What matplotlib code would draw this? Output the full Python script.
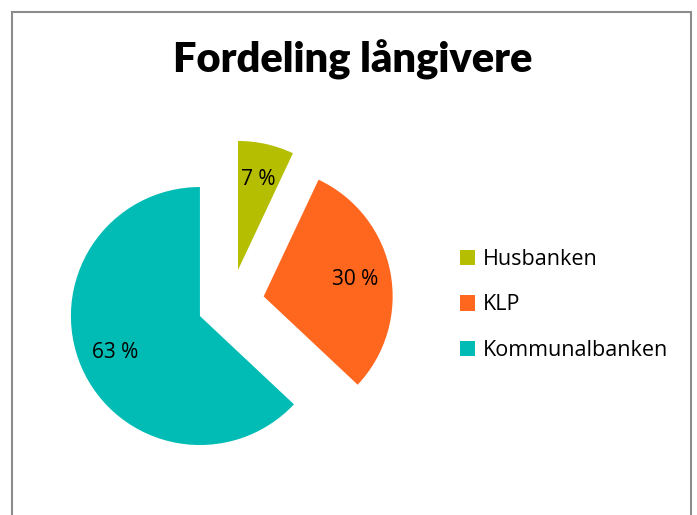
#!/usr/bin/env python3
"""Fordeling långivere - eksplodert kakediagram."""

import matplotlib
matplotlib.use("Agg")
import matplotlib.pyplot as plt
from matplotlib.patches import Rectangle

labels = ["Husbanken", "KLP", "Kommunalbanken"]
shares = [7, 30, 63]
colors = ["#B5BE00", "#FF671F", "#00BCB4"]

plt.rcParams["font.family"] = ["Open Sans", "DejaVu Sans"]

W, H = 697, 515
fig = plt.figure(figsize=(W / 100, H / 100), dpi=100)

# chart border
fig.patches.append(
    Rectangle((12 / W, -0.05), (691 - 12) / W, (H - 12) / H + 0.05,
              transform=fig.transFigure, fill=False,
              edgecolor="#8c8c8c", linewidth=1.5)
)

fig.text(353 / W, 1 - 60 / H, "Fordeling långivere",
         ha="center", va="center", fontsize=30, fontweight="heavy",
         family=["Lato", "DejaVu Sans"])

# pie: radius 129 px, centre at (230.7, 302.7)
r = 129
cx, cy = 230.7, 302.7
ax = fig.add_axes([(cx - 1.5 * r) / W, (H - cy - 1.5 * r) / H, 3 * r / W, 3 * r / H])
wedges, texts, autotexts = ax.pie(
    shares,
    colors=colors,
    explode=[0.26] * len(shares),
    startangle=90,
    counterclock=False,
    autopct=lambda p: f"{p:.0f} %",
    pctdistance=0.72,
    textprops=dict(fontsize=15, color="black"),
    wedgeprops=dict(linewidth=0),
)
ax.set_xlim(-1.5, 1.5)
ax.set_ylim(-1.5, 1.5)
ax.set_aspect("equal")
ax.axis("off")

leg = fig.legend(
    wedges, labels,
    loc="center left",
    bbox_to_anchor=(441 / W, 1 - 305 / H),
    frameon=False,
    fontsize=15.5,
    handlelength=0.7,
    handleheight=0.7,
    handletextpad=0.35,
    labelspacing=1.13,
)

fig.savefig("out.png", dpi=100)
